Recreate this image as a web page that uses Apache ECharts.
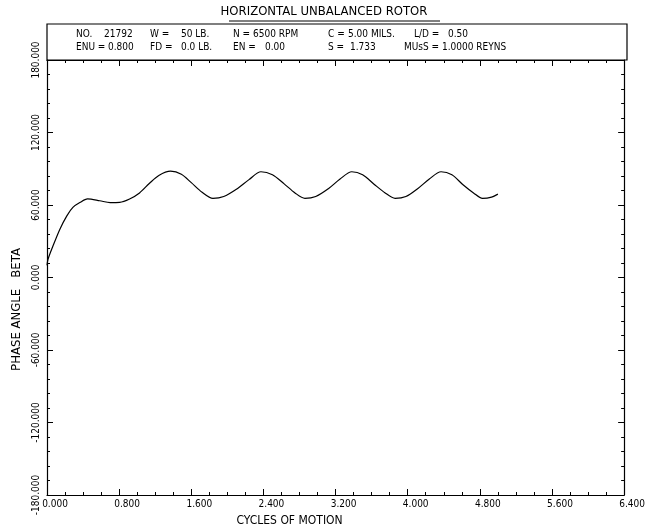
<!DOCTYPE html>
<html>
<head>
<meta charset="utf-8">
<script src="https://cdn.jsdelivr.net/npm/echarts@6/dist/echarts.min.js"></script>
<style>html,body{margin:0;padding:0;background:#fff}#c{width:648px;height:532px}</style>
</head>
<body>
<div id="c"></div>
<script>
// Data
var cycles = [0.00, 0.011, 0.066, 0.143, 0.22, 0.287, 0.364, 0.45, 0.585, 0.70, 0.806, 0.916, 1.026, 1.137, 1.24, 1.37, 1.49, 1.60, 1.72, 1.84, 1.96, 2.10, 2.24, 2.373, 2.50, 2.63, 2.75, 2.86, 2.98, 3.12, 3.25, 3.38, 3.50, 3.63, 3.75, 3.86, 3.98, 4.11, 4.24, 4.37, 4.49, 4.61, 4.73, 4.83, 4.93, 5.00];
var beta   = [10, 15, 26, 40, 51, 58, 62, 65, 63.5, 62, 62.2, 65, 70, 78, 84.5, 88, 85.5, 78.5, 70.5, 65.5, 67, 73, 81, 87.5, 85, 77.5, 70, 65.5, 67, 73.5, 81.5, 87.5, 85, 77, 70, 65.5, 67, 73.5, 81.5, 87.5, 85, 77, 70, 65.5, 66.5, 69];
var xTicks = [0, 0.8, 1.6, 2.4, 3.2, 4.0, 4.8, 5.6, 6.4];
var yTicks = [-180, -120, -60, 0, 60, 120, 180];
var titleText = 'HORIZONTAL UNBALANCED ROTOR';
var headerRow1 = [['NO.', '21792'], ['W =', '50 LB.'], ['N =', '6500 RPM'], ['C =', '5.00 MILS.'], ['L/D =', '0.50']];
var headerRow2 = [['ENU =', '0.800'], ['FD =', '0.0 LB.'], ['EN =', '0.00'], ['S =', '1.733'], ['MUsS =', '1.0000 REYNS']];

var FONT = "'DejaVu Sans Condensed','Liberation Sans Narrow',sans-serif";
var points = cycles.map(function (c, i) { return [c, beta[i]]; });

var L = 47, R = 627, T = 60, B = 497;
var row1Pos = [[76, 104], [150, 181], [233, 253], [328, 348], [414, 448]];
var row2Pos = [[76, 108], [150, 181], [233, 265], [328, 350], [404, 442]];

var graphics = [
  { type: 'text', left: 'center', top: 5, style: { text: titleText, font: '13px ' + FONT, fill: '#000' } },
  { type: 'line', shape: { x1: 229, y1: 21, x2: 440, y2: 21 }, style: { stroke: '#000', lineWidth: 1 } },
  { type: 'rect', shape: { x: L, y: 24, width: R - L, height: T - 24 }, style: { fill: 'none', stroke: '#000', lineWidth: 1.2 } }
];
function addRow(row, pos, y) {
  row.forEach(function (r, i) {
    graphics.push({ type: 'text', x: pos[i][0], y: y, style: { text: r[0], font: '10px ' + FONT, fill: '#000', textVerticalAlign: 'middle' } });
    graphics.push({ type: 'text', x: pos[i][1], y: y, style: { text: r[1], font: '10px ' + FONT, fill: '#000', textVerticalAlign: 'middle' } });
  });
}
addRow(headerRow1, row1Pos, 34);
addRow(headerRow2, row2Pos, 47);

function ax(extra, split) {
  return Object.assign({
    axisLine: { onZero: false, lineStyle: { color: '#000', width: 1.2 } },
    axisTick: { inside: true, length: 6, lineStyle: { color: '#000' } },
    minorTick: { show: true, splitNumber: split, length: 3, lineStyle: { color: '#000' } },
    splitLine: { show: false }
  }, extra);
}

var chart = echarts.init(document.getElementById('c'));
chart.setOption({
  backgroundColor: '#fff',
  animation: false,
  grid: { left: L, right: 648 - R, top: T, bottom: 532 - B },
  graphic: graphics,
  xAxis: [
    ax({
      type: 'value', min: xTicks[0], max: xTicks[xTicks.length - 1], interval: 0.8, position: 'bottom',
      name: 'CYCLES OF MOTION', nameLocation: 'middle', nameGap: 20,
      nameTextStyle: { color: '#000', fontFamily: FONT, fontSize: 12, padding: [0, 92, 0, 0] },
      axisLabel: { color: '#000', fontFamily: FONT, fontSize: 10, margin: 4, padding: [0, 0, 0, 16],
        formatter: function (v) { return v.toFixed(3); } }
    }, 4),
    ax({
      type: 'value', min: xTicks[0], max: xTicks[xTicks.length - 1], interval: 0.8, position: 'top',
      axisLabel: { show: false }
    }, 4)
  ],
  yAxis: [
    ax({
      type: 'value', min: yTicks[0], max: yTicks[yTicks.length - 1], interval: 60, position: 'left',
      name: 'PHASE ANGLE   BETA', nameLocation: 'middle', nameGap: 24, nameRotate: 90,
      nameTextStyle: { color: '#000', fontFamily: FONT, fontSize: 13, padding: [0, 64, 0, 0] },
      axisLabel: { color: '#000', fontFamily: FONT, fontSize: 10, rotate: 90, margin: 6,
        formatter: function (v) { return v.toFixed(3); } }
    }, 5),
    ax({
      type: 'value', min: yTicks[0], max: yTicks[yTicks.length - 1], interval: 60, position: 'right',
      axisLabel: { show: false }
    }, 5)
  ],
  series: [{
    type: 'line', data: points, smooth: 0.3, showSymbol: false,
    lineStyle: { color: '#000', width: 1.2 }
  }]
});
</script>
</body>
</html>
